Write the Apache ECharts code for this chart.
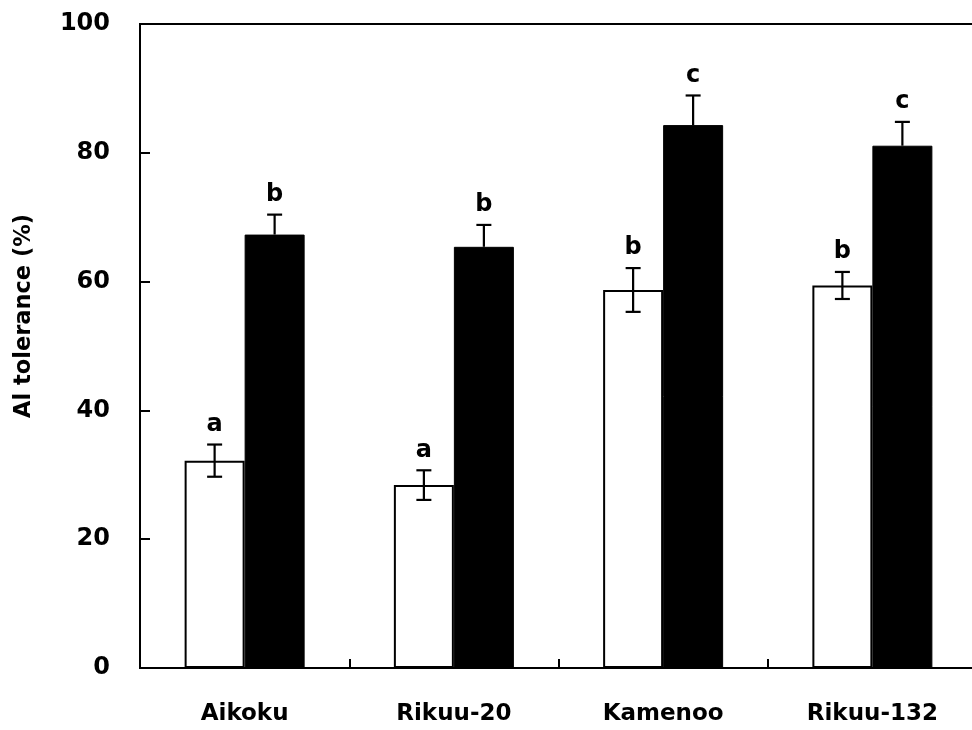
<!DOCTYPE html>
<html>
<head>
<meta charset="utf-8">
<script src="https://cdn.jsdelivr.net/npm/echarts@6/dist/echarts.min.js"></script>
<style>html,body{margin:0;padding:0;background:#fff;}#chart{width:972px;height:730px;}</style>
</head>
<body>
<div id="chart"></div>
<script>
const categories = ['Aikoku', 'Rikuu-20', 'Kamenoo', 'Rikuu-132'];
const controlValues = [32.2, 28.4, 58.7, 59.4];
const controlErrors = [2.5, 2.3, 3.4, 2.1];
const controlLetters = ['a', 'a', 'b', 'b'];
const treatedValues = [67.3, 65.4, 84.3, 81.1];
const treatedErrors = [3.1, 3.4, 4.6, 3.7];
const treatedLetters = ['b', 'b', 'c', 'c'];
const yTicks = [0, 20, 40, 60, 80, 100];
const yTitle = 'Al tolerance (%)';

const BAR_W = 60;
const TICK_FONT = '"DejaVu Sans", sans-serif';

function errorSeries(values, errors, letters, offset, both) {
  return {
    type: 'custom',
    z: 10,
    clip: false,
    silent: true,
    data: values.map((v, i) => [i, v, errors[i]]),
    renderItem: function (params, api) {
      const idx = api.value(0);
      const v = api.value(1);
      const e = api.value(2);
      const letter = letters[params.dataIndex];
      const pTop = api.coord([idx, v + e]);
      const pMid = api.coord([idx, v]);
      const pBot = api.coord([idx, v - e]);
      const x = pMid[0] + offset;
      const capHalf = 7.5;
      const lineStyle = { stroke: '#000', lineWidth: 2.2 };
      const children = [
        { type: 'line', shape: { x1: x, y1: both ? pBot[1] : pMid[1], x2: x, y2: pTop[1] }, style: lineStyle },
        { type: 'line', shape: { x1: x - capHalf, y1: pTop[1], x2: x + capHalf, y2: pTop[1] }, style: lineStyle }
      ];
      if (both) {
        children.push({ type: 'line', shape: { x1: x - capHalf, y1: pBot[1], x2: x + capHalf, y2: pBot[1] }, style: lineStyle });
      }
      children.push({
        type: 'text',
        x: x,
        y: pTop[1] - 8,
        style: {
          text: letter,
          fill: '#000',
          font: 'bold 24px ' + TICK_FONT,
          align: 'center',
          verticalAlign: 'bottom'
        }
      });
      return { type: 'group', children: children };
    }
  };
}

const chart = echarts.init(document.getElementById('chart'), null, { renderer: 'canvas' });
chart.setOption({
  animation: false,
  backgroundColor: '#fff',
  grid: {
    left: 140, right: -5, top: 24, bottom: 62,
    show: true, borderColor: '#000', borderWidth: 2, backgroundColor: 'transparent',
    containLabel: false, outerBoundsMode: 'none'
  },
  graphic: [{
    type: 'text',
    x: 24, y: 316,
    rotation: Math.PI / 2,
    style: {
      text: yTitle,
      fill: '#000',
      font: 'bold 22.5px "DejaVu Sans", sans-serif',
      align: 'center',
      verticalAlign: 'middle'
    }
  }],
  xAxis: {
    type: 'category',
    data: categories,
    axisLine: { lineStyle: { color: '#000', width: 2 } },
    axisTick: { show: true, inside: true, length: 9, lineStyle: { color: '#000', width: 2 } },
    axisLabel: { color: '#000', fontSize: 23, fontWeight: 'bold', fontFamily: TICK_FONT, margin: 35 },
    splitLine: { show: false }
  },
  yAxis: {
    type: 'value',
    min: yTicks[0], max: yTicks[yTicks.length - 1], interval: yTicks[1] - yTicks[0],
    axisLine: { show: true, lineStyle: { color: '#000', width: 2 } },
    axisTick: { show: true, inside: true, length: 10, lineStyle: { color: '#000', width: 2 } },
    axisLabel: { color: '#000', fontSize: 24, fontWeight: 'bold', fontFamily: TICK_FONT, margin: 30 },
    splitLine: { show: false }
  },
  series: [
    {
      type: 'bar', data: controlValues, barWidth: BAR_W, barGap: '0%',
      itemStyle: { color: '#fff', borderColor: '#000', borderWidth: 2 }
    },
    {
      type: 'bar', data: treatedValues, barWidth: BAR_W, barGap: '0%',
      itemStyle: { color: '#000', borderColor: '#000', borderWidth: 1 }
    },
    errorSeries(controlValues, controlErrors, controlLetters, -BAR_W / 2, true),
    errorSeries(treatedValues, treatedErrors, treatedLetters, BAR_W / 2, false)
  ]
});
</script>
</body>
</html>
